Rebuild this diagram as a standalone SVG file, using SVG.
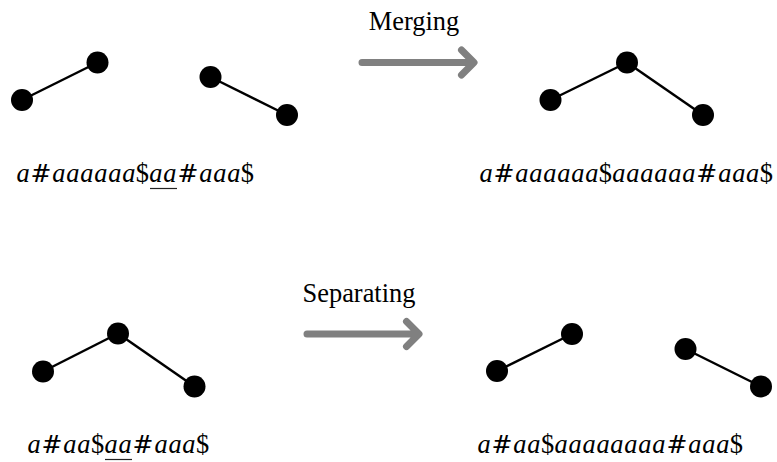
<svg xmlns="http://www.w3.org/2000/svg" width="777" height="462" viewBox="0 0 777 462">
<style>
  .node { fill: #000; }
  .edge { stroke: #000; stroke-width: 2.5; fill: none; }
  .arrow { stroke: #808080; stroke-width: 7; fill: none; stroke-linecap: round; stroke-linejoin: round; }
  .lbl { font-family: "Liberation Serif", "Times New Roman", serif; font-size: 26.4px; fill: #000; }
  .str { font-family: "Liberation Serif", "Times New Roman", serif; font-size: 26.4px; fill: #000; text-anchor: middle; }
  .it { font-style: italic; }
  .sym { font-family: "DejaVu Serif", serif; font-size: 25px; font-weight: 300; }
  .ul { stroke: #222; stroke-width: 1.2; }
</style>
<rect width="777" height="462" fill="#fff"/>

<g id="connectors">
  <line class="edge" x1="22" y1="100" x2="97.5" y2="62.5"/>
  <line class="edge" x1="210.5" y1="77" x2="287" y2="115"/>
  <line class="edge" x1="550.5" y1="100" x2="627" y2="62.5"/>
  <line class="edge" x1="627" y1="62.5" x2="703" y2="115"/>
  <line class="edge" x1="43" y1="371.5" x2="118" y2="333.5"/>
  <line class="edge" x1="118" y1="333.5" x2="194.5" y2="386.5"/>
  <line class="edge" x1="497" y1="371" x2="572" y2="334"/>
  <line class="edge" x1="685.5" y1="349" x2="761" y2="386.5"/>
</g>

<g id="n1"><circle class="node" cx="22" cy="100" r="11"/></g>
<g id="n2"><circle class="node" cx="97.5" cy="62.5" r="11"/></g>
<g id="n3"><circle class="node" cx="210.5" cy="77" r="11"/></g>
<g id="n4"><circle class="node" cx="287" cy="115" r="11"/></g>
<g id="n5"><circle class="node" cx="550.5" cy="100" r="11"/></g>
<g id="n6"><circle class="node" cx="627" cy="62.5" r="11"/></g>
<g id="n7"><circle class="node" cx="703" cy="115" r="11"/></g>
<g id="n8"><circle class="node" cx="43" cy="371.5" r="11"/></g>
<g id="n9"><circle class="node" cx="118" cy="333.5" r="11"/></g>
<g id="n10"><circle class="node" cx="194.5" cy="386.5" r="11"/></g>
<g id="n11"><circle class="node" cx="497" cy="371" r="11"/></g>
<g id="n12"><circle class="node" cx="572" cy="334" r="11"/></g>
<g id="n13"><circle class="node" cx="685.5" cy="349" r="11"/></g>
<g id="n14"><circle class="node" cx="761" cy="386.5" r="11"/></g>

<g id="merge-arrow">
  <text class="lbl" x="414" y="30" text-anchor="middle">Merging</text>
  <path class="arrow" d="M362 62.5 H472 M461.5 50 L474 62.5 L461.5 75"/>
</g>
<g id="separate-arrow">
  <text class="lbl" x="359" y="302" text-anchor="middle">Separating</text>
  <path class="arrow" d="M307 334 H417 M406.5 321.5 L419 334 L406.5 346.5"/>
</g>

<g id="str-top-left">
  <text class="str" y="182"><tspan class="it" x="22.98">a</tspan><tspan class="sym" x="40.96">#</tspan><tspan class="it" x="58.95 72.92 86.89 100.86 114.83 128.80">aaaaaa</tspan><tspan x="142.38">$</tspan><tspan class="it" x="155.97 169.94">aa</tspan><tspan class="sym" x="187.92">#</tspan><tspan class="it" x="205.90 219.87 233.84">aaa</tspan><tspan x="247.42">$</tspan></text>
  <line class="ul" x1="150" y1="188.5" x2="177" y2="188.5"/>
</g>
<g id="str-top-right">
  <text class="str" y="182"><tspan class="it" x="485.99">a</tspan><tspan class="sym" x="503.97">#</tspan><tspan class="it" x="521.95 535.92 549.89 563.86 577.83 591.80">aaaaaa</tspan><tspan x="605.38">$</tspan><tspan class="it" x="618.97 632.94 646.91 660.88 674.85 688.82">aaaaaa</tspan><tspan class="sym" x="706.80">#</tspan><tspan class="it" x="724.78 738.75 752.72">aaa</tspan><tspan x="766.30">$</tspan></text>
</g>
<g id="str-bottom-left">
  <text class="str" y="453"><tspan class="it" x="33.99">a</tspan><tspan class="sym" x="51.97">#</tspan><tspan class="it" x="69.95 83.92">aa</tspan><tspan x="97.50">$</tspan><tspan class="it" x="111.09 125.06">aa</tspan><tspan class="sym" x="143.04">#</tspan><tspan class="it" x="161.02 174.99 188.96">aaa</tspan><tspan x="202.54">$</tspan></text>
  <line class="ul" x1="105" y1="459.5" x2="132" y2="459.5"/>
</g>
<g id="str-bottom-right">
  <text class="str" y="453"><tspan class="it" x="483.99">a</tspan><tspan class="sym" x="501.97">#</tspan><tspan class="it" x="519.95 533.92">aa</tspan><tspan x="547.50">$</tspan><tspan class="it" x="561.09 575.06 589.03 603.00 616.97 630.94 644.91 658.88">aaaaaaaa</tspan><tspan class="sym" x="676.86">#</tspan><tspan class="it" x="694.84 708.81 722.78">aaa</tspan><tspan x="736.36">$</tspan></text>
</g>
</svg>
